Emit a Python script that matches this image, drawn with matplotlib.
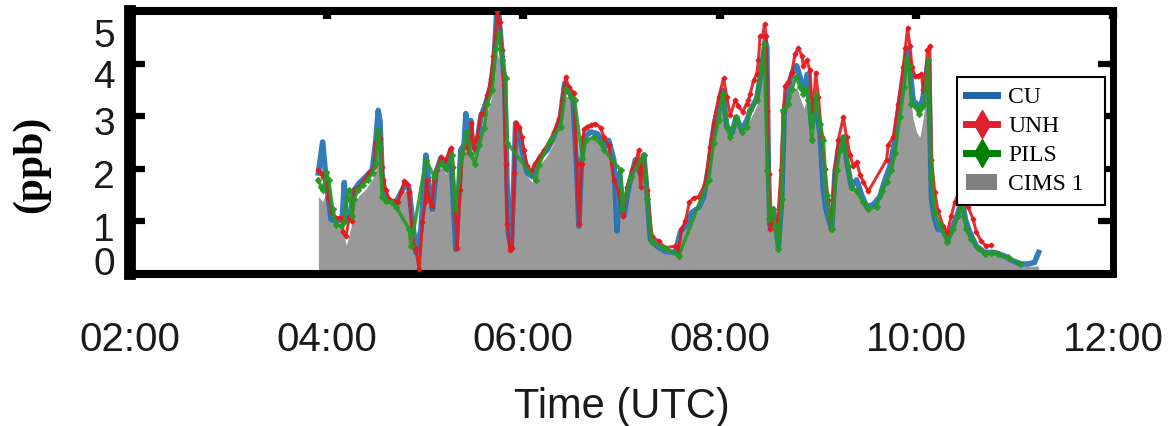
import numpy as np
import matplotlib
matplotlib.use('Agg')
import matplotlib.pyplot as plt
from matplotlib.lines import Line2D
from matplotlib.patches import Patch
from matplotlib.transforms import ScaledTranslation

plt.rcParams['font.family'] = ['Liberation Sans', 'DejaVu Sans']

# times are minutes after 03:55 UTC, values in ppb
tm_cu = [0, 2.6, 4.3, 7.7, 11.6, 14.6, 15.8, 17.1, 19.9, 21.9,
         25.0, 29.0, 32.9, 35.1, 36.5, 37.6, 38.8, 40.2, 43.2, 47.3,
         50.4, 53.4, 55.4, 59.5, 62.6, 65.6, 67.6, 69.6, 71.7, 74.7,
         77.8, 80.8, 83.9, 86.9, 88.9, 90.0, 91.4, 93.0, 93.8, 96.1,
         99.1, 102.1, 105.2, 107.2, 108.8, 110.2, 112.3, 113.7, 114.9, 115.9,
         117.7, 119.4, 120.4, 122.4, 124.4, 127.5, 130.5, 132.6, 135.6, 139.7,
         143.7, 147.8, 150.3, 152.9, 155.5, 157.6, 159.0, 160.4, 162.0, 166.1,
         170.1, 173.2, 175.2, 177.2, 180.3, 182.3, 183.8, 186.4, 189.4, 193.5,
         196.6, 198.6, 200.6, 202.6, 206.7, 211.8, 217.9, 220.9, 224.0, 228.0,
         232.1, 235.1, 238.2, 240.2, 242.2, 244.3, 246.7, 249.3, 252.4, 255.0,
         258.4, 261.5, 263.6, 267.6, 270.6, 272.7, 273.7, 274.7, 275.7, 277.7,
         280.8, 282.8, 284.3, 286.9, 288.9, 291.9, 294.0, 296.4, 298.5, 301.1,
         303.1, 306.2, 308.2, 309.8, 313.3, 315.3, 317.3, 320.4, 322.4, 325.4,
         328.5, 331.5, 334.6, 338.7, 342.7, 345.8, 348.8, 351.9, 354.9, 357.5,
         359.6, 361.0, 363.0, 365.0, 367.1, 369.1, 371.1, 372.2, 373.2, 374.2,
         376.2, 378.2, 381.3, 384.3, 387.4, 390.4, 392.9, 394.9, 397.6, 401.6,
         406.7, 412.8, 418.9, 423.9, 429.0, 433.1, 437.1, 439.6]
cu = [1.92, 2.51, 1.92, 1.04, 1.0, 1.09, 1.74, 1.04, 1.17, 1.6,
      1.73, 1.85, 1.98, 2.55, 3.11, 2.9, 1.92, 1.55, 1.38, 1.36,
      1.55, 1.73, 1.6, 0.41, 0.85, 2.26, 1.66, 1.23, 1.92, 2.2,
      2.0, 2.36, 0.47, 2.36, 2.45, 3.05, 2.4, 2.92, 2.5, 2.33,
      2.98, 3.24, 3.55, 4.06, 4.96, 4.9, 4.09, 3.62, 2.04, 0.79,
      0.5, 1.92, 2.87, 2.75, 2.36, 1.92, 1.85, 2.04, 2.23, 2.36,
      2.6, 2.98, 3.62, 3.49, 3.3, 2.04, 0.91, 2.04, 2.6, 2.7,
      2.67, 2.54, 2.42, 2.54, 2.17, 0.82, 1.92, 1.1, 1.66, 2.17,
      1.9, 2.26, 1.55, 0.66, 0.53, 0.43, 0.41, 0.79, 0.91, 1.17,
      1.26, 1.47, 2.04, 2.55, 2.92, 3.17, 3.49, 2.8, 2.67, 2.98,
      2.74, 2.92, 3.11, 3.34, 3.93, 4.43, 4.3, 1.92, 0.91, 1.23,
      0.53, 1.42, 3.05, 3.55, 3.8, 3.96, 3.74, 3.49, 3.8, 2.8,
      3.3, 2.67, 1.6, 1.23, 0.85, 1.92, 2.36, 2.6, 2.17, 1.66,
      1.79, 1.51, 1.28, 1.32, 1.47, 1.79, 2.04, 2.55, 3.3, 3.8,
      4.28, 3.93, 3.3, 3.24, 3.11, 3.37, 3.8, 4.06, 2.87, 1.42,
      1.04, 0.85, 0.81, 0.66, 0.91, 1.17, 1.42, 1.04, 0.79, 0.53,
      0.41, 0.41, 0.34, 0.25, 0.19, 0.19, 0.22, 0.41]

# CIMS 1 is on the same time base as CU
cims = [1.47, 1.38, 1.5, 1.1, 0.88, 0.85, 0.7, 0.55, 0.9, 1.35,
        1.5, 1.62, 1.8, 1.98, 2.45, 2.2, 1.75, 1.45, 1.32, 1.3,
        1.45, 1.6, 1.4, 0.4, 0.75, 2.1, 1.55, 1.15, 1.8, 2.05,
        1.9, 2.2, 0.45, 2.2, 2.3, 2.4, 2.25, 2.4, 2.3, 2.2,
        2.75, 3.0, 3.3, 3.6, 4.2, 4.1, 3.6, 3.2, 1.9, 0.75,
        0.45, 1.85, 2.65, 2.55, 2.25, 1.85, 1.75, 1.95, 2.1, 2.25,
        2.5, 2.85, 3.4, 3.35, 3.15, 1.95, 0.85, 1.95, 2.5, 2.6,
        2.55, 2.4, 2.3, 2.4, 2.05, 0.8, 1.85, 1.05, 1.6, 2.05,
        1.8, 2.15, 1.45, 0.62, 0.5, 0.4, 0.38, 0.72, 0.85, 1.1,
        1.2, 1.4, 1.95, 2.45, 2.8, 3.05, 3.35, 2.7, 2.55, 2.85,
        2.65, 2.8, 2.95, 3.2, 3.8, 4.3, 4.15, 1.8, 0.85, 1.15,
        0.5, 1.35, 2.9, 3.3, 3.45, 3.55, 3.35, 3.15, 3.4, 2.6,
        3.1, 2.5, 1.5, 1.15, 0.8, 1.8, 2.25, 2.5, 2.05, 1.55,
        1.65, 1.4, 1.2, 1.25, 1.4, 1.7, 1.95, 2.45, 3.1, 3.6,
        4.0, 3.5, 2.95, 2.7, 2.6, 2.95, 3.5, 3.8, 2.7, 1.35,
        1.0, 0.8, 0.75, 0.6, 0.85, 1.1, 1.35, 0.98, 0.72, 0.5,
        0.38, 0.38, 0.3, 0.22, 0.15, 0.15, 0.15, 0.15]

tm_unh = [0, 1.6, 3.0, 4.7, 6.1, 8.3, 10.8, 13.8, 15.2, 16.9,
          18.9, 20.5, 21.9, 25.0, 28.0, 31.1, 34.1, 35.1, 36.5, 37.8,
          38.8, 39.6, 41.2, 43.2, 46.3, 48.3, 50.4, 52.4, 54.4, 55.4,
          57.4, 59.5, 61.5, 63.5, 65.2, 66.0, 67.6, 69.3, 70.7, 72.3,
          74.7, 77.8, 80.8, 82.2, 83.4, 84.8, 86.5, 87.9, 90.6, 92.0,
          93.4, 95.0, 97.0, 99.1, 101.1, 103.1, 105.2, 106.8, 108.2, 109.2,
          110.7, 111.9, 113.3, 114.3, 115.3, 116.9, 118.3, 119.4, 120.4, 122.4,
          124.1, 125.5, 127.5, 129.9, 132.0, 134.6, 137.7, 140.7, 143.7, 146.8,
          148.8, 150.9, 152.9, 155.9, 157.6, 159.0, 160.6, 162.0, 164.0, 166.1,
          169.1, 172.2, 174.2, 177.2, 180.3, 183.3, 185.8, 188.4, 191.4, 193.5,
          195.5, 196.6, 198.6, 200.6, 203.6, 207.7, 211.8, 217.9, 219.9, 221.5,
          224.0, 226.4, 229.0, 232.1, 236.1, 239.2, 241.2, 244.3, 247.3, 249.3,
          251.4, 254.4, 256.4, 258.9, 261.5, 262.5, 263.6, 265.6, 267.6, 268.6,
          269.6, 271.2, 272.3, 273.3, 274.1, 274.9, 275.7, 277.7, 279.8, 282.4,
          283.8, 284.9, 286.9, 288.9, 291.0, 293.0, 295.0, 296.0, 298.0, 300.1,
          301.1, 302.1, 303.5, 305.2, 307.2, 309.2, 311.2, 312.9, 315.3, 317.3,
          320.4, 322.4, 324.5, 326.5, 328.5, 330.6, 332.6, 335.6, 346.8, 347.8,
          350.8, 353.9, 356.9, 358.3, 359.6, 361.0, 362.4, 364.1, 366.1, 368.1,
          369.1, 370.2, 371.7, 373.2, 374.2, 376.2, 378.2, 381.3, 383.9, 386.3,
          388.4, 390.8, 392.9, 394.5, 396.5, 399.6, 401.6, 404.6, 407.7, 410.7]
unh = [1.98, 1.92, 1.85, 1.92, 1.47, 1.17, 1.07, 1.07, 0.79, 0.72,
       1.09, 1.0, 1.6, 1.66, 1.79, 1.92, 2.04, 2.49, 2.7, 2.57,
       2.04, 1.79, 1.6, 1.42, 1.39, 1.36, 1.55, 1.76, 1.7, 1.55,
       0.66, 0.47, 0.09, 0.98, 1.36, 1.79, 1.42, 1.3, 1.79, 1.98,
       2.23, 2.17, 2.4, 2.04, 1.26, 0.5, 1.6, 2.3, 2.45, 2.3,
       2.87, 2.4, 2.6, 3.05, 3.05, 3.4, 3.7, 4.15, 4.55, 5.0,
       4.8, 4.25, 3.6, 2.1, 0.95, 0.45, 0.5, 1.92, 2.87, 2.8,
       2.6, 2.35, 2.05, 1.95, 2.1, 2.2, 2.36, 2.5, 2.7, 2.95,
       3.3, 3.74, 3.55, 3.45, 2.1, 0.95, 2.1, 2.75, 2.8, 2.83,
       2.86, 2.78, 2.6, 2.45, 1.79, 1.55, 1.1, 1.66, 1.98, 2.1,
       2.36, 1.66, 2.26, 1.6, 0.72, 0.62, 0.5, 0.53, 0.45, 0.85,
       1.0, 1.36, 1.45, 1.47, 1.72, 2.42, 2.87, 3.36, 3.72, 3.36,
       3.02, 3.3, 3.2, 3.08, 3.24, 3.3, 3.43, 3.68, 3.8, 4.06,
       4.53, 4.53, 4.75, 4.53, 3.1, 1.9, 0.85, 1.04, 0.79, 1.98,
       3.08, 3.58, 3.65, 3.83, 4.19, 4.3, 4.15, 3.96, 4.06, 3.87,
       3.3, 3.1, 3.83, 3.37, 2.6, 2.0, 1.4, 0.85, 1.98, 2.55,
       2.98, 2.6, 2.26, 2.05, 2.13, 1.89, 1.75, 1.57, 2.17, 2.45,
       2.6, 3.24, 3.93, 4.3, 4.68, 4.34, 3.93, 3.77, 3.77, 3.8,
       3.49, 3.6, 4.25, 4.34, 2.17, 1.55, 1.2, 0.91, 0.79, 1.1,
       1.36, 1.55, 1.76, 1.6, 1.28, 1.04, 0.8, 0.62, 0.53, 0.55]

tm_pils = [0, 1.6, 3.0, 4.7, 6.3, 8.7, 10.8, 13.8, 15.8, 17.2,
           18.9, 20.5, 21.9, 23.9, 27.0, 30.0, 33.1, 35.1, 36.5, 37.8,
           38.8, 41.2, 44.3, 47.3, 55.4, 56.5, 65.6, 70.7, 74.7, 77.8,
           81.8, 83.3, 87.9, 90.6, 93.0, 95.4, 98.1, 101.1, 103.1, 106.2,
           108.2, 110.2, 112.3, 114.3, 115.3, 132.6, 134.6, 141.7, 147.8, 150.9,
           153.9, 156.4, 161.0, 163.1, 168.1, 172.2, 174.2, 184.4, 185.3, 190.5,
           198.6, 200.6, 203.6, 211.8, 219.9, 238.2, 241.2, 244.3, 246.7, 249.3,
           251.4, 254.8, 258.4, 261.5, 263.6, 267.6, 270.6, 272.0, 274.1, 275.3,
           277.3, 278.8, 280.8, 282.8, 283.8, 286.9, 288.9, 291.6, 294.0, 296.0,
           297.6, 299.1, 301.1, 303.7, 306.2, 308.2, 310.2, 313.3, 316.3, 318.4,
           320.4, 323.4, 325.4, 328.5, 332.6, 335.6, 340.7, 343.7, 346.8, 349.8,
           351.9, 354.9, 357.5, 358.9, 360.4, 362.0, 364.1, 366.5, 368.1, 369.7,
           372.2, 374.2, 376.2, 379.3, 383.9, 387.4, 390.4, 392.9, 395.5, 398.5,
           402.6, 406.7, 410.7, 414.8, 420.9, 428.0]
pils = [1.79, 1.66, 1.6, 1.94, 1.79, 1.23, 0.94, 0.91, 0.98, 1.42,
        1.6, 1.1, 1.42, 1.6, 1.7, 1.79, 1.92, 2.11, 2.74, 2.4,
        1.47, 1.39, 1.36, 1.28, 0.85, 0.53, 2.17, 1.85, 2.11, 2.0,
        2.26, 1.23, 2.28, 2.7, 2.28, 2.1, 2.45, 2.78, 3.24, 3.49,
        4.28, 4.59, 4.06, 3.72, 2.49, 1.79, 2.08, 2.55, 2.8, 3.52,
        3.37, 3.3, 2.2, 2.54, 2.6, 2.49, 2.36, 1.98, 1.23, 1.85,
        2.26, 1.42, 0.6, 0.5, 0.34, 1.79, 2.5, 2.92, 3.43, 2.8,
        2.6, 2.98, 2.7, 2.8, 3.11, 3.3, 3.93, 4.38, 1.98, 1.04,
        1.23, 0.91, 0.47, 1.42, 3.11, 3.24, 3.52, 3.74, 3.55, 3.43,
        3.52, 3.3, 2.55, 3.4, 2.85, 2.55, 1.5, 0.85, 1.98, 2.36,
        2.6, 2.05, 1.64, 1.57, 1.36, 1.23, 1.28, 1.57, 1.75, 1.98,
        2.3, 2.98, 3.55, 4.09, 3.95, 3.24, 3.2, 3.05, 3.15, 3.24,
        4.06, 1.85, 1.17, 0.95, 0.6, 0.85, 1.1, 1.42, 0.85, 0.66,
        0.5, 0.38, 0.4, 0.38, 0.32, 0.19]

hour_ticks = [2, 4, 6, 8, 10, 12]
hour_labels = ['02:00', '04:00', '06:00', '08:00', '10:00', '12:00']
names = ['CU', 'UNH', 'PILS', 'CIMS 1']

start_hour = 3 + 55 / 60.0


def to_hours(minutes):
    return start_hour + np.array(minutes) / 60.0


fig = plt.figure(figsize=(11.71, 4.26), dpi=100)
ax = fig.add_axes([130 / 1171, 152 / 426, 983 / 1171, 263 / 426])

# grey area first, then the three lines on top
ax.fill_between(to_hours(tm_cu), 0, cims, color='#808080', alpha=0.8, lw=0, zorder=1)
ax.plot(to_hours(tm_cu), cu, color='#1f6eb4', lw=4, alpha=0.9, zorder=2)
ax.plot(to_hours(tm_unh), unh, color='#e41a1c', lw=2.2, marker='D', ms=2.5,
        alpha=0.9, zorder=3)
ax.plot(to_hours(tm_pils), pils, color='#259a25', lw=2.5, marker='D', ms=3,
        alpha=0.9, zorder=4)

ax.set_xlim(2, 12)
ax.set_ylim(0, 5)
ax.set_xticks(hour_ticks)
ax.set_xticklabels(hour_labels)
ax.set_yticks(range(6))

ax.tick_params(axis='x', direction='in', bottom=False, top=True, length=6,
               width=6, pad=34, labelsize=29, labelcolor='#1a1a1a')
ax.tick_params(axis='y', direction='in', left=True, right=True, length=11,
               width=4.5, pad=11, labelsize=28, labelcolor='#1a1a1a')

# the y labels in the original sit a little off their ticks
shifts = [-13, 6, 5, 5, 10, 22]
for lab, d in zip(ax.get_yticklabels(), shifts):
    lab.set_transform(lab.get_transform() +
                      ScaledTranslation(0, -d / 100.0, fig.dpi_scale_trans))

ax.spines['left'].set_linewidth(8.5)
ax.spines['right'].set_linewidth(5)
ax.spines['top'].set_linewidth(5.8)
ax.spines['bottom'].set_linewidth(5.8)

ax.set_xlabel('Time (UTC)', fontsize=30, color='#1a1a1a')
ax.xaxis.set_label_coords(0.5, -0.43)
ax.set_ylabel('(ppb)', fontsize=30, family=['Liberation Serif'], fontweight='bold')
ax.yaxis.set_label_coords(-0.081, 0.418)

handles = [Line2D([], [], color='#1f64a8', lw=5),
           Line2D([], [], color='#e0202e', lw=5, marker='d', ms=14),
           Line2D([], [], color='#008000', lw=5, marker='d', ms=14),
           Patch(facecolor='#808080', edgecolor='none')]
# legend box stretched to the width it has in the original
leg = ax.legend(handles, names, loc='upper left', mode='expand',
                bbox_to_anchor=(0.8413, 0.0, 0.1506, 0.749),
                borderaxespad=0, prop={'family': 'Liberation Serif', 'size': 17},
                fancybox=False, edgecolor='black', framealpha=1,
                handlelength=1.3, handletextpad=0.47, labelspacing=0.32,
                borderpad=0.4)
leg.get_frame().set_linewidth(1.5)
leg.set_zorder(10)

fig.savefig('out.png', dpi=100)
